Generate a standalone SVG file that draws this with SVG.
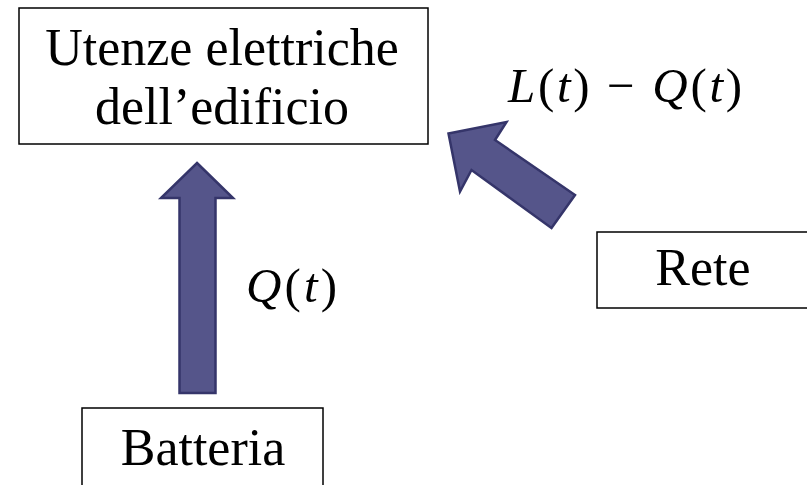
<svg xmlns="http://www.w3.org/2000/svg" width="807" height="485" viewBox="0 0 807 485">
<style>
.box{fill:#ffffff;stroke:#000000;stroke-width:1.5}
.lbl{font-family:"Liberation Serif","Times New Roman",serif;font-size:52px;fill:#000000;text-anchor:middle}
.math{font-family:"Liberation Serif","Times New Roman",serif;font-size:49px;fill:#000000}
.it{font-style:italic}
.arrow{fill:#55558a;stroke:#35356a;stroke-width:2.5;stroke-linejoin:miter}
</style>
<rect width="807" height="485" fill="#ffffff"/>
<g id="utenze">
<rect class="box" x="19" y="8" width="409" height="136"/>
<text class="lbl" x="222" y="65">Utenze elettriche</text>
<text class="lbl" x="222" y="124">dell’edificio</text>
</g>
<g id="rete">
<rect class="box" x="597" y="232" width="220" height="76"/>
<text class="lbl" x="703" y="285">Rete</text>
</g>
<g id="batteria">
<rect class="box" x="82" y="408" width="241" height="100"/>
<text class="lbl" x="203" y="465">Batteria</text>
</g>
<g id="connectors">
<polygon class="arrow" points="197,163 233,198 215.5,198 215.5,393 179.5,393 179.5,198 161,198"/>
<polygon class="arrow" points="448.5,133.5 506.5,122 495,140 575,195 551.5,228 471.5,170 460,191.5"/>
<text class="math" x="508" y="102" textLength="234" lengthAdjust="spacing"><tspan class="it">L</tspan>(<tspan class="it">t</tspan>) − <tspan class="it">Q</tspan>(<tspan class="it">t</tspan>)</text>
<text class="math" x="246" y="302" textLength="91" lengthAdjust="spacing"><tspan class="it">Q</tspan>(<tspan class="it">t</tspan>)</text>
</g>
</svg>
